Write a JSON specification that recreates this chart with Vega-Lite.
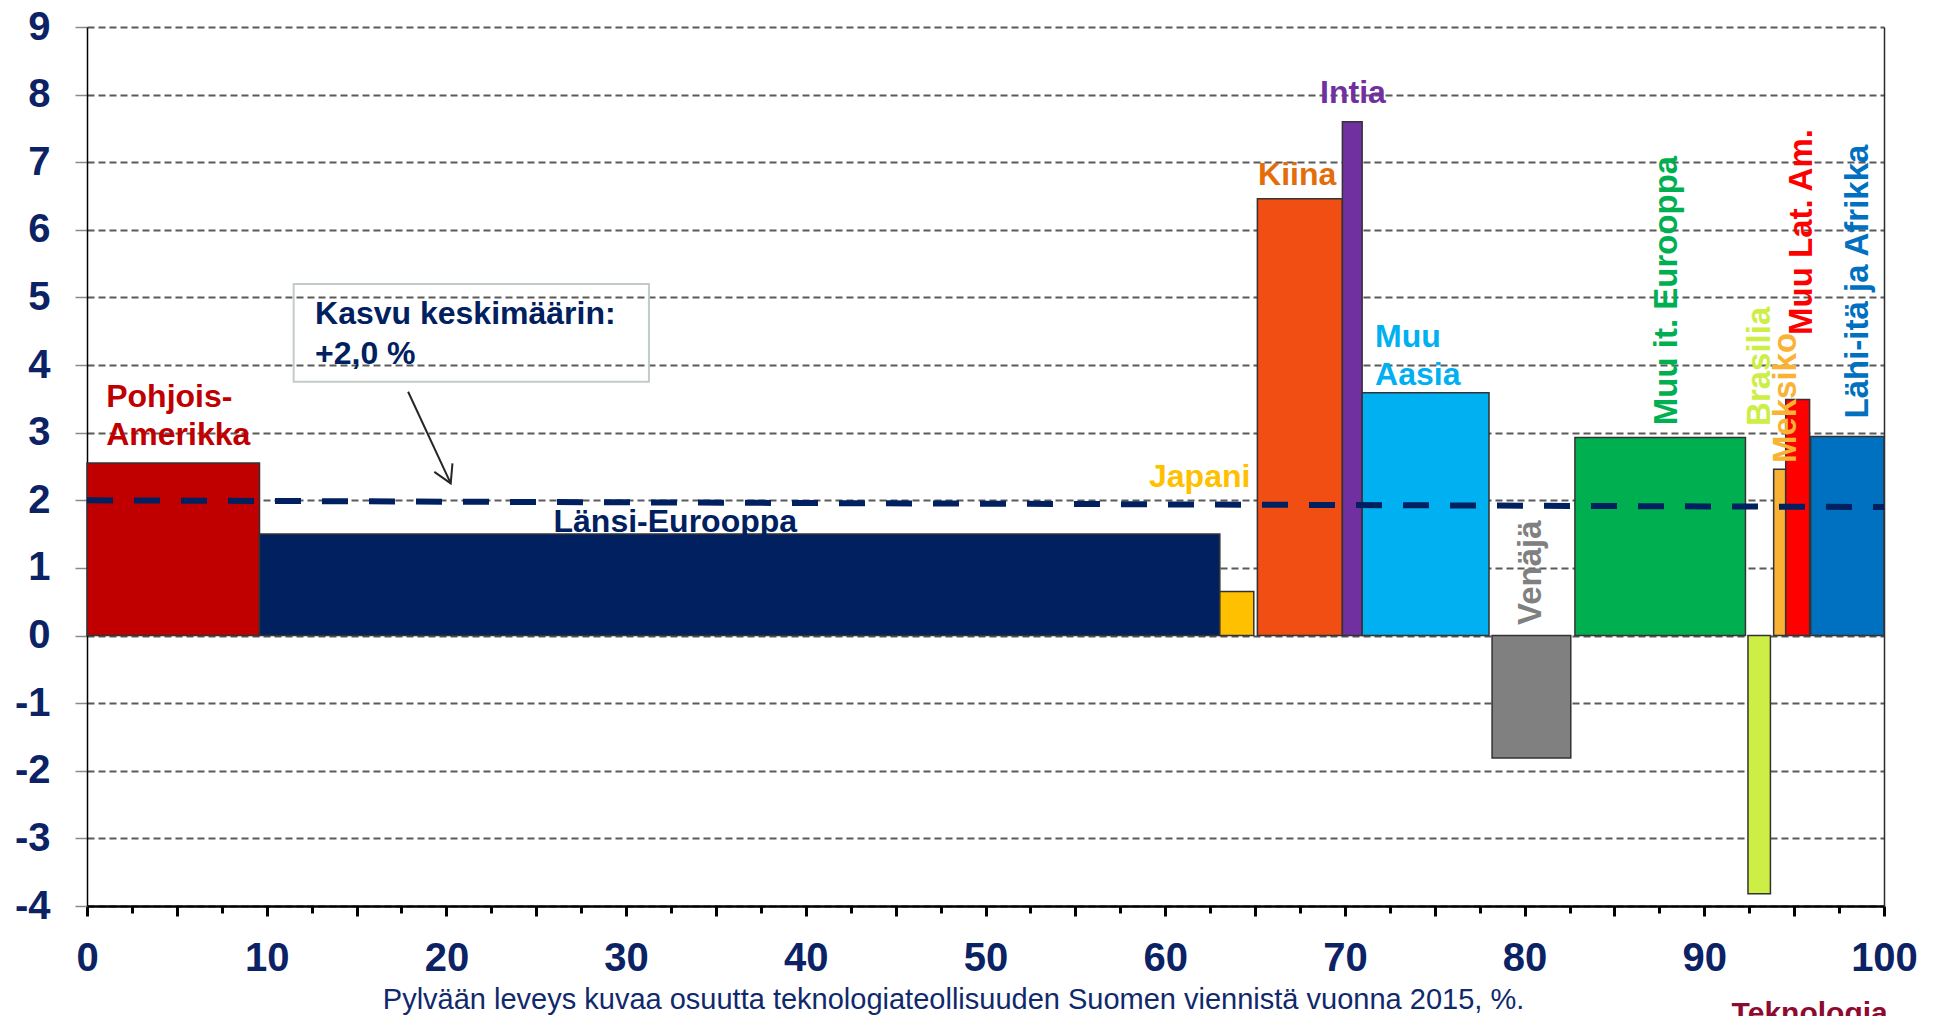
{
  "$schema": "https://vega.github.io/schema/vega-lite/v6.json",
  "width": 1797,
  "height": 879,
  "autosize": {"type": "none"},
  "padding": {"left": 87, "top": 27, "right": 54, "bottom": 110},
  "background": "white",
  "config": {"font": "Liberation Sans", "view": {"stroke": null}},
  "datasets": {
    "bars": [
      {"region": "Pohjois-Amerikka", "start": 0, "end": 9.6, "growth": 2.55},
      {"region": "Länsi-Eurooppa", "start": 9.6, "end": 63.04, "growth": 1.5},
      {"region": "Japani", "start": 63.04, "end": 64.93, "growth": 0.65},
      {"region": "Kiina", "start": 65.13, "end": 69.86, "growth": 6.46},
      {"region": "Intia", "start": 69.86, "end": 70.96, "growth": 7.6},
      {"region": "Muu Aasia", "start": 70.96, "end": 78.02, "growth": 3.59},
      {"region": "Venäjä", "start": 78.19, "end": 82.57, "growth": -1.81},
      {"region": "Muu it. Eurooppa", "start": 82.8, "end": 92.29, "growth": 2.93},
      {"region": "Brasilia", "start": 92.43, "end": 93.68, "growth": -3.82},
      {"region": "Meksiko", "start": 93.86, "end": 94.53, "growth": 2.46},
      {"region": "Muu Lat. Am.", "start": 94.53, "end": 95.86, "growth": 3.49},
      {"region": "Lähi-itä ja Afrikka", "start": 95.92, "end": 100, "growth": 2.945}
    ],
    "avg": [
      {"x": 0, "y": 2.0},
      {"x": 100, "y": 1.9}
    ],
    "box": [
      {"x1": 11.5, "x2": 31.27, "y1": 5.2, "y2": 3.754}
    ],
    "arrow": [
      {"x": 17.87, "y": 3.606},
      {"x": 20.24, "y": 2.251}
    ],
    "arrowHead": [
      {"x": 20.24, "y": 2.251}
    ],
    "labelsFlat": [
      {"who": "Pohjois-Amerikka", "text": "Pohjois-", "x": 1.07, "y": 3.376},
      {"who": "Pohjois-Amerikka", "text": "Amerikka", "x": 1.07, "y": 2.818},
      {"who": "Länsi-Eurooppa", "text": "Länsi-Eurooppa", "x": 25.96, "y": 1.527},
      {"who": "Japani", "text": "Japani", "x": 59.1, "y": 2.2},
      {"who": "Kiina", "text": "Kiina", "x": 65.17, "y": 6.66},
      {"who": "Intia", "text": "Intia", "x": 68.62, "y": 7.876},
      {"who": "Muu Aasia", "text": "Muu", "x": 71.68, "y": 4.267},
      {"who": "Muu Aasia", "text": "Aasia", "x": 71.68, "y": 3.705},
      {"who": "Kasvu", "text": "Kasvu keskimäärin:", "x": 12.69, "y": 4.603},
      {"who": "Kasvu", "text": "+2,0 %", "x": 12.69, "y": 4.016}
    ],
    "labelsUp": [
      {"who": "Venäjä", "text": "Venäjä", "x": 80.9, "y": 0.156},
      {"who": "Muu it. Eurooppa", "text": "Muu it. Eurooppa", "x": 88.47, "y": 3.11},
      {"who": "Brasilia", "text": "Brasilia", "x": 93.66, "y": 3.1},
      {"who": "Meksiko", "text": "Meksiko", "x": 95.12, "y": 2.55},
      {"who": "Muu Lat. Am.", "text": "Muu Lat. Am.", "x": 95.99, "y": 4.445},
      {"who": "Lähi-itä ja Afrikka", "text": "Lähi-itä ja Afrikka", "x": 99.1, "y": 3.21}
    ],
    "brand": [
      {"text": "Teknologia", "x": 91.52, "y": -5.73}
    ]
  },
  "layer": [
    {
      "data": {"name": "bars"},
      "mark": {"type": "rect", "stroke": "#333333", "strokeWidth": 1.5},
      "encoding": {
        "x": {
          "field": "start", "type": "quantitative",
          "scale": {"domain": [0, 100], "nice": false, "zero": false},
          "axis": {
            "orient": "bottom",
            "values": [0, 5, 10, 15, 20, 25, 30, 35, 40, 45, 50, 55, 60, 65, 70, 75, 80, 85, 90, 95, 100],
            "labelExpr": "datum.value % 10 === 0 ? datum.label : ''",
            "grid": false,
            "domainColor": "#000000", "domainWidth": 2.5,
            "tickColor": "#000000", "tickSize": 10, "tickWidth": 3,
            "labelFontSize": 40, "labelFontWeight": "bold", "labelColor": "#0B2265",
            "labelPadding": 22, "labelFlush": false, "labelOverlap": false,
            "title": "Pylvään leveys kuvaa osuutta teknologiateollisuuden Suomen viennistä vuonna 2015, %.",
            "titleFontSize": 29, "titleFontWeight": "normal", "titleColor": "#10296B",
            "titleX": 866, "titleY": 102, "titleBaseline": "alphabetic", "titleAlign": "center"
          }
        },
        "x2": {"field": "end"},
        "y": {
          "field": "growth", "type": "quantitative",
          "scale": {"domain": [-4, 9], "nice": false},
          "axis": {
            "orient": "left",
            "values": [-4, -3, -2, -1, 0, 1, 2, 3, 4, 5, 6, 7, 8, 9],
            "labelExpr": "toString(datum.value)",
            "title": null,
            "grid": true, "gridDash": [7, 4], "gridColor": "#5a5a5a", "gridWidth": 2,
            "domainColor": "#000000", "domainWidth": 1.5,
            "tickColor": "#8a8a8a", "tickSize": 12, "tickWidth": 1.5,
            "labelFontSize": 40, "labelFontWeight": "bold", "labelColor": "#0B2265",
            "labelPadding": 25
          }
        },
        "y2": {"datum": 0},
        "color": {
          "field": "region", "type": "nominal", "legend": null,
          "scale": {
            "domain": ["Pohjois-Amerikka", "Länsi-Eurooppa", "Japani", "Kiina", "Intia", "Muu Aasia", "Venäjä", "Muu it. Eurooppa", "Brasilia", "Meksiko", "Muu Lat. Am.", "Lähi-itä ja Afrikka"],
            "range": ["#C00000", "#002060", "#FFC000", "#F04E13", "#7030A0", "#00B0F0", "#808080", "#00B050", "#CDEE44", "#F9B233", "#FF0000", "#0070C0"]
          }
        }
      }
    },
    {
      "data": {"name": "box"},
      "mark": {"type": "rect", "fillOpacity": 0, "stroke": "#C2CBC7", "strokeWidth": 2},
      "encoding": {
        "x": {"field": "x1", "type": "quantitative", "axis": null},
        "x2": {"field": "x2"},
        "y": {"field": "y1", "type": "quantitative", "axis": null},
        "y2": {"field": "y2"}
      }
    },
    {
      "data": {"name": "avg"},
      "mark": {"type": "line", "color": "#002060", "strokeWidth": 6, "strokeDash": [26, 21]},
      "encoding": {
        "x": {
          "field": "x", "type": "quantitative",
          "axis": {
            "orient": "bottom",
            "values": [2.5, 7.5, 12.5, 17.5, 22.5, 27.5, 32.5, 37.5, 42.5, 47.5, 52.5, 57.5, 62.5, 67.5, 72.5, 77.5, 82.5, 87.5, 92.5, 97.5],
            "labels": false, "domain": false, "grid": false,
            "tickColor": "#000000", "tickSize": 7, "tickWidth": 3, "title": null
          }
        },
        "y": {
          "field": "y", "type": "quantitative",
          "axis": {
            "orient": "right", "labels": false, "ticks": false, "grid": false,
            "domain": true, "domainColor": "#2b2b2b", "domainWidth": 1.5, "title": null
          }
        }
      }
    },
    {
      "data": {"name": "arrow"},
      "mark": {"type": "line", "color": "#262626", "strokeWidth": 2},
      "encoding": {
        "x": {"field": "x", "type": "quantitative", "axis": null},
        "y": {"field": "y", "type": "quantitative", "axis": null}
      }
    },
    {
      "data": {"name": "arrowHead"},
      "mark": {"type": "point", "shape": "M-0.5,-0.866L0,0L0.5,-0.866", "size": 1600, "angle": 335, "filled": false, "stroke": "#262626", "strokeWidth": 2, "opacity": 1},
      "encoding": {
        "x": {"field": "x", "type": "quantitative", "axis": null},
        "y": {"field": "y", "type": "quantitative", "axis": null}
      }
    },
    {
      "data": {"name": "labelsFlat"},
      "mark": {"type": "text", "align": "left", "baseline": "alphabetic", "fontSize": 32, "fontWeight": "bold"},
      "encoding": {
        "x": {"field": "x", "type": "quantitative", "axis": null},
        "y": {"field": "y", "type": "quantitative", "axis": null},
        "text": {"field": "text"},
        "color": {
          "field": "who", "type": "nominal", "legend": null,
          "scale": {
            "domain": ["Pohjois-Amerikka", "Länsi-Eurooppa", "Japani", "Kiina", "Intia", "Muu Aasia", "Kasvu"],
            "range": ["#C00000", "#002060", "#FFC000", "#E46C0A", "#7030A0", "#00B0F0", "#002060"]
          }
        }
      }
    },
    {
      "data": {"name": "labelsUp"},
      "mark": {"type": "text", "align": "left", "baseline": "alphabetic", "angle": 270, "fontSize": 33, "fontWeight": "bold"},
      "encoding": {
        "x": {"field": "x", "type": "quantitative", "axis": null},
        "y": {"field": "y", "type": "quantitative", "axis": null},
        "text": {"field": "text"},
        "color": {
          "field": "who", "type": "nominal", "legend": null,
          "scale": {
            "domain": ["Venäjä", "Muu it. Eurooppa", "Brasilia", "Meksiko", "Muu Lat. Am.", "Lähi-itä ja Afrikka"],
            "range": ["#808080", "#00B050", "#CDEE44", "#F9B233", "#FF0000", "#0070C0"]
          }
        }
      }
    },
    {
      "data": {"name": "brand"},
      "mark": {"type": "text", "align": "left", "baseline": "alphabetic", "fontSize": 30, "fontWeight": "bold", "color": "#8E0B30"},
      "encoding": {
        "x": {"field": "x", "type": "quantitative", "axis": null},
        "y": {"field": "y", "type": "quantitative", "axis": null},
        "text": {"field": "text"}
      }
    }
  ],
  "resolve": {
    "axis": {"x": "independent", "y": "independent"},
    "scale": {"color": "independent"}
  }
}
